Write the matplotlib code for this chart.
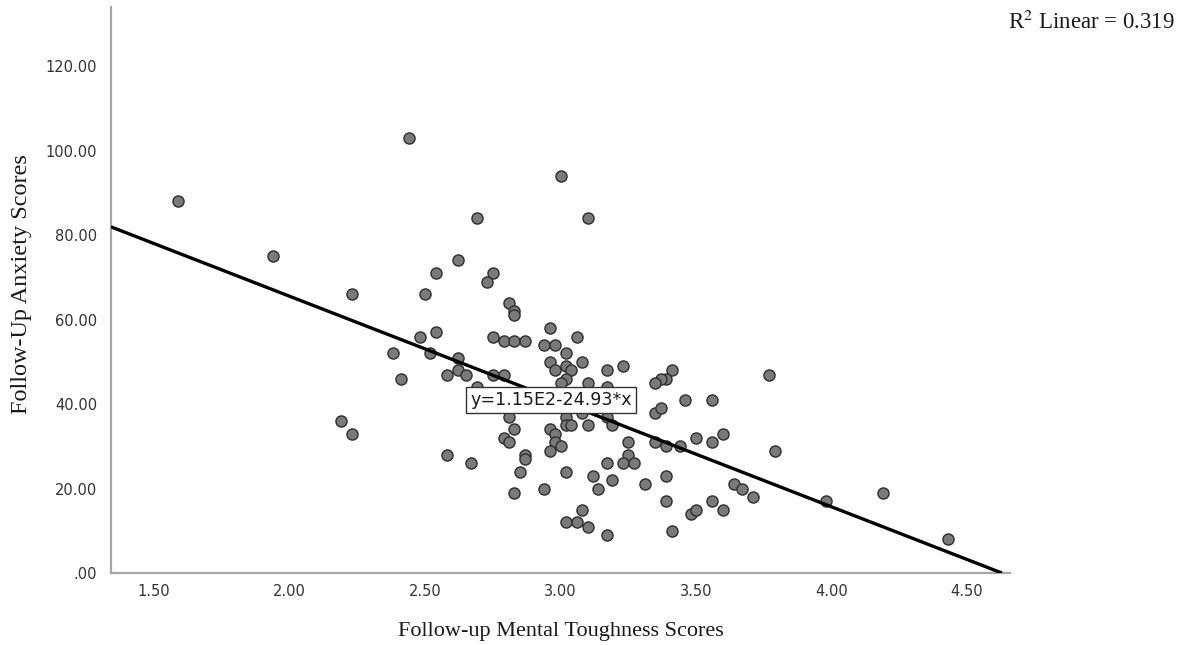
import matplotlib
matplotlib.use("Agg")
import matplotlib.pyplot as plt
import numpy as np

# ---- data ----
mental_toughness = [
    2.44, 1.59, 1.94, 2.54, 2.23, 2.50, 2.54, 2.48, 2.38, 3.00,
    2.69, 3.10, 2.62, 2.75, 2.73, 2.81, 2.83, 2.83, 2.96, 2.75,
    2.79, 2.83, 2.87, 3.06, 2.94, 2.98, 3.02, 2.52, 2.62, 3.08,
    2.96, 3.02, 3.17, 3.23, 3.04, 2.98, 2.62, 2.58, 2.65, 2.75,
    2.79, 3.41, 3.39, 3.37, 3.35, 3.02, 3.00, 3.10, 3.17, 2.41,
    2.69, 3.46, 3.77, 3.56, 3.35, 3.37, 2.81, 3.02, 3.08, 3.17,
    3.02, 3.04, 3.10, 3.19, 2.83, 2.96, 2.98, 2.79, 2.81, 2.98,
    3.00, 2.96, 3.50, 3.35, 3.39, 3.44, 3.25, 3.25, 3.23, 3.27,
    3.17, 2.58, 2.67, 2.87, 2.87, 2.85, 3.02, 3.12, 3.19, 3.14,
    3.31, 3.39, 3.39, 2.83, 2.94, 3.08, 3.02, 3.06, 3.10, 3.17,
    3.41, 3.48, 3.50, 3.60, 3.56, 3.79, 3.64, 3.67, 3.71, 3.98,
    4.19, 3.56, 3.60, 4.43, 2.19, 2.23,
]
anxiety = [
    103, 88, 75, 71, 66, 66, 57, 56, 52, 94,
    84, 84, 74, 71, 69, 64, 62, 61, 58, 56,
    55, 55, 55, 56, 54, 54, 52, 52, 51, 50,
    50, 49, 48, 49, 48, 48, 48, 47, 47, 47,
    47, 48, 46, 46, 45, 46, 45, 45, 44, 46,
    44, 41, 47, 41, 38, 39, 37, 37, 38, 37,
    35, 35, 35, 35, 34, 34, 33, 32, 31, 31,
    30, 29, 32, 31, 30, 30, 31, 28, 26, 26,
    26, 28, 26, 28, 27, 24, 24, 23, 22, 20,
    21, 23, 17, 19, 20, 15, 12, 12, 11, 9,
    10, 14, 15, 33, 31, 29, 21, 20, 18, 17,
    19, 17, 15, 8, 36, 33,
]
fit_intercept = 115.4
fit_slope = -24.93
x_ticks = [1.50, 2.00, 2.50, 3.00, 3.50, 4.00, 4.50]
y_ticks = [0, 20, 40, 60, 80, 100, 120]
equation_text = "y=1.15E2-24.93*x"
r2_text = r"R$^2$ Linear = 0.319"
x_label = "Follow-up Mental Toughness Scores"
y_label = "Follow-Up Anxiety Scores"

plt.rcParams['mathtext.fontset'] = 'stix'

fig = plt.figure(figsize=(11.83, 6.45), dpi=100)
ax = fig.add_axes([0.0938, 0.1116, 0.760, 0.8774])

ax.set_xlim(1.341, 4.659)
ax.set_ylim(0, 134)

ax.scatter(mental_toughness, anxiety, s=64, facecolor="#7a7a7a",
           edgecolor="#2e2e2e", linewidth=1.0, zorder=3)

x_end = -fit_intercept / fit_slope
xs = np.array([ax.get_xlim()[0], x_end])
ax.plot(xs, fit_intercept + fit_slope * xs, color="black", lw=2.4,
        zorder=4, solid_capstyle="butt")

ax.text(2.965, 41.0, equation_text, ha="center", va="center",
        fontsize=12.6, family="DejaVu Sans", color="#1a1a1a", zorder=6,
        bbox=dict(boxstyle="square,pad=0.22", facecolor="white",
                  edgecolor="#333333", linewidth=1.0))

for s in ["top", "right"]:
    ax.spines[s].set_visible(False)
for s in ["left", "bottom"]:
    ax.spines[s].set_color("#a6a6a6")
    ax.spines[s].set_linewidth(1.6)

ax.set_xticks(x_ticks)
ax.set_xticklabels([f"{v:.2f}" for v in x_ticks])
ax.set_yticks(y_ticks)
ax.set_yticklabels([f"{v:.2f}" if v != 0 else ".00" for v in y_ticks])
ax.tick_params(axis="both", length=0, labelsize=10.5, colors="#333333")
ax.tick_params(axis="x", pad=8)
ax.tick_params(axis="y", pad=10)

ax.set_xlabel(x_label, family="Liberation Serif", fontsize=16,
              color="#1a1a1a")
ax.xaxis.set_label_coords(0.5, -0.086)
ax.set_ylabel(y_label, family="Liberation Serif", fontsize=17.5,
              color="#1a1a1a", va="center")
ax.yaxis.set_label_coords(-0.099, 0.51)

fig.text(0.9935, 0.965, r2_text, ha="right", va="center",
         family="Liberation Serif", fontsize=16.5, color="#1a1a1a")

fig.savefig("out.png", dpi=100, facecolor="white")
